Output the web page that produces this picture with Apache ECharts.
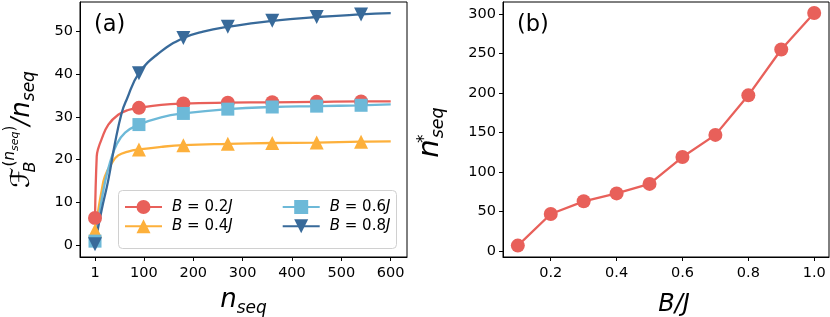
<!DOCTYPE html>
<html><head><meta charset="utf-8">
<script src="https://cdn.jsdelivr.net/npm/echarts@6/dist/echarts.min.js"></script>
<style>html,body{margin:0;padding:0;background:#fff}#c{width:830px;height:317px}</style>
</head><body><div id="c"></div>
<script>
// ---------- data ----------
const markerX = [1, 90, 180, 270, 360, 450, 540];
const xTicksA = [1, 100, 200, 300, 400, 500, 600];
const yTicksA = [0, 10, 20, 30, 40, 50];

const redX = [1, 4.5, 7, 14, 28, 48, 68, 90, 135, 180, 270, 360, 450, 540, 600];
const redY = [6.4, 20.8, 22.4, 24.7, 28.2, 30.5, 31.6, 32.1, 32.8, 33.1, 33.3, 33.4, 33.5, 33.6, 33.6];

const orangeX = [1, 8, 14, 21, 35, 48, 68, 90, 135, 180, 270, 360, 450, 540, 600];
const orangeY = [3.5, 8.5, 12.5, 16.1, 19.2, 21.0, 21.9, 22.4, 23.0, 23.4, 23.7, 23.9, 24.0, 24.2, 24.3];

const lblueX = [1, 11, 21, 31, 45, 62, 90, 135, 180, 270, 360, 450, 540, 600];
const lblueY = [1.0, 8.3, 14.6, 19.2, 23.6, 26.3, 28.2, 29.9, 30.8, 31.8, 32.3, 32.5, 32.7, 32.9];

const dblueX = [1, 14.5, 28, 41.5, 55, 65, 90, 133, 180, 220, 270, 360, 450, 540, 600];
const dblueY = [0.3, 8.3, 15.3, 23.9, 30.9, 34.0, 40.2, 45.1, 48.4, 49.9, 51.0, 52.4, 53.3, 53.9, 54.2];

const seriesNames = ['B = 0.2J', 'B = 0.4J', 'B = 0.6J', 'B = 0.8J'];

const bX = [0.1, 0.2, 0.3, 0.4, 0.5, 0.6, 0.7, 0.8, 0.9, 1.0];
const bY = [7, 47, 63, 73, 85, 119, 147, 197, 255, 301];
const xTicksB = [0.2, 0.4, 0.6, 0.8, 1.0];
const yTicksB = [0, 50, 100, 150, 200, 250, 300];

// ---------- styling ----------
const FONT = 'DejaVu Sans';
const C_RED = '#e8605a', C_ORANGE = '#fdb03b', C_LBLUE = '#6db9d8', C_DBLUE = '#386a9a';
const LW = 2.3;

function pts(xs, ys) {
  return xs.map((x, i) => markerX.includes(x) ? [x, ys[i]] : { value: [x, ys[i]], symbol: 'none' });
}
function lineSeries(name, xs, ys, color, symbol, size) {
  return {
    name, type: 'line', xAxisIndex: 0, yAxisIndex: 0,
    data: pts(xs, ys), smooth: 0.45,
    showSymbol: true, showAllSymbol: true,
    symbol, symbolSize: size,
    lineStyle: { color, width: LW }, itemStyle: { color, borderWidth: 0 },
    emphasis: { disabled: true }, silent: true, animation: false, clip: false
  };
}
const axisCommon = {
  nameMoveOverlap: false,
  axisLine: { show: true, onZero: false, lineStyle: { color: '#000', width: 1 } },
  axisTick: { show: true, inside: false, length: 4, lineStyle: { color: '#000', width: 1 } },
  splitLine: { show: false },
  axisLabel: { color: '#000', fontFamily: FONT, fontSize: 14.5 }
};
const legText = { fontFamily: FONT, fontSize: 15, color: '#000', padding: [0, 0, 0, 5],
  rich: { i: { fontFamily: FONT, fontSize: 15, fontStyle: 'italic', color: '#000' },
          r: { fontFamily: FONT, fontSize: 15, color: '#000' } } };
function legFmt(name) {
  const m = name.match(/B = ([\d.]+)J/);
  return '{i|B}{r| = ' + m[1] + '}{i|J}';
}

const option = {
  backgroundColor: '#fff',
  animation: false,
  title: [
    { text: '(a)', left: 89, top: 9, textStyle: { fontFamily: FONT, fontSize: 22.5, fontWeight: 'normal', color: '#000' } },
    { text: '(b)', left: 512, top: 9, textStyle: { fontFamily: FONT, fontSize: 22.5, fontWeight: 'normal', color: '#000' } }
  ],
  grid: [
    { left: 80, right: 423, top: 2, bottom: 60, containLabel: false, outerBoundsMode: 'none',
      show: true, borderColor: '#000', borderWidth: 1, backgroundColor: 'transparent' },
    { left: 503, right: 1, top: 2, bottom: 60, containLabel: false, outerBoundsMode: 'none',
      show: true, borderColor: '#000', borderWidth: 1, backgroundColor: 'transparent' }
  ],
  xAxis: [
    Object.assign({}, axisCommon, {
      type: 'value', gridIndex: 0, min: -29.4, max: 633,
      axisTick: Object.assign({}, axisCommon.axisTick, { customValues: xTicksA }),
      axisLabel: Object.assign({}, axisCommon.axisLabel, { customValues: xTicksA, margin: 9 }),
      name: '{n|n}{s|seq}', nameLocation: 'middle', nameGap: 30,
      nameTextStyle: { rich: {
        n: { fontFamily: FONT, fontSize: 26, fontStyle: 'italic', color: '#000', lineHeight: 30, verticalAlign: 'top' },
        s: { fontFamily: FONT, fontSize: 17, fontStyle: 'italic', color: '#000', lineHeight: 17, verticalAlign: 'bottom' } } }
    }),
    Object.assign({}, axisCommon, {
      type: 'value', gridIndex: 1, min: 0.055, max: 1.045,
      axisTick: Object.assign({}, axisCommon.axisTick, { customValues: xTicksB }),
      axisLabel: Object.assign({}, axisCommon.axisLabel, { customValues: xTicksB, margin: 9, formatter: v => v.toFixed(1) }),
      name: 'B/J', nameLocation: 'middle', nameGap: 36,
      nameTextStyle: { fontFamily: FONT, fontSize: 24, fontStyle: 'italic', color: '#000', lineHeight: 24, padding: [0, 0, 0, 16] }
    })
  ],
  yAxis: [
    Object.assign({}, axisCommon, {
      type: 'value', gridIndex: 0, min: -2.7, max: 56.8,
      axisTick: Object.assign({}, axisCommon.axisTick, { customValues: yTicksA }),
      axisLabel: Object.assign({}, axisCommon.axisLabel, { customValues: yTicksA, margin: 7 }),
      name: '{F|ℱ}{B|B}{sp|(}{spi|n}{sps|seq}{sp|)}{sl|/}{n|n}{s|seq}',
      nameLocation: 'middle', nameRotate: 90, nameGap: 38,
      nameTextStyle: { rich: {
        F: { fontFamily: FONT, fontSize: 26, color: '#000', lineHeight: 40, verticalAlign: 'middle' },
        B: { fontFamily: FONT, fontSize: 16, fontStyle: 'italic', color: '#000', lineHeight: 16, width: 1, verticalAlign: 'bottom', padding: [0, 0, 3, 0] },
        sp: { fontFamily: FONT, fontSize: 15, color: '#000', lineHeight: 16, verticalAlign: 'top', padding: [1, 0, 0, 0] },
        spi: { fontFamily: FONT, fontSize: 15, fontStyle: 'italic', color: '#000', lineHeight: 16, verticalAlign: 'top', padding: [1, 0, 0, 0] },
        sps: { fontFamily: FONT, fontSize: 11, fontStyle: 'italic', color: '#000', lineHeight: 12, verticalAlign: 'top', padding: [8, 0, 0, 0] },
        sl: { fontFamily: FONT, fontSize: 24, fontStyle: 'italic', color: '#000', lineHeight: 28, verticalAlign: 'middle' },
        n: { fontFamily: FONT, fontSize: 26, fontStyle: 'italic', color: '#000', lineHeight: 28, verticalAlign: 'middle' },
        s: { fontFamily: FONT, fontSize: 17, fontStyle: 'italic', color: '#000', lineHeight: 17, verticalAlign: 'bottom', padding: [0, 0, 4, 0] }
      } }
    }),
    Object.assign({}, axisCommon, {
      type: 'value', gridIndex: 1, min: -7.4, max: 315,
      axisTick: Object.assign({}, axisCommon.axisTick, { customValues: yTicksB }),
      axisLabel: Object.assign({}, axisCommon.axisLabel, { customValues: yTicksB, margin: 7 }),
      name: '{n|n}{st|*}{s|seq}', nameLocation: 'middle', nameRotate: 90, nameGap: 54,
      nameTextStyle: { padding: [0, 6, 0, 0], rich: {
        n: { fontFamily: FONT, fontSize: 29, fontStyle: 'italic', color: '#000', lineHeight: 38, verticalAlign: 'middle' },
        st: { fontFamily: FONT, fontSize: 17, fontStyle: 'italic', color: '#000', lineHeight: 17, width: 1, verticalAlign: 'top', padding: [5, 0, 0, 0] },
        s: { fontFamily: FONT, fontSize: 17.5, fontStyle: 'italic', color: '#000', lineHeight: 18, verticalAlign: 'bottom', padding: [0, 0, 2, 0] }
      } }
    })
  ],
  graphic: [{
    type: 'rect', z: 3, silent: true,
    shape: { x: 118.5, y: 190.5, width: 278, height: 58, r: 4 },
    style: { fill: 'rgba(255,255,255,0.85)', stroke: '#d0d0d0', lineWidth: 1 }
  }],
  legend: [
    { data: [seriesNames[0], seriesNames[1]], orient: 'vertical', left: 124, top: 199.5, padding: 0,
      itemWidth: 37, itemHeight: 17.5, itemGap: 4.2, z: 5, textStyle: legText, formatter: legFmt, selectedMode: false },
    { data: [seriesNames[2], seriesNames[3]], orient: 'vertical', left: 281.7, top: 199.5, padding: 0,
      itemWidth: 37, itemHeight: 17.5, itemGap: 4.2, z: 5, textStyle: legText, formatter: legFmt, selectedMode: false }
  ],
  series: [
    lineSeries(seriesNames[0], redX, redY, C_RED, 'circle', 14),
    lineSeries(seriesNames[1], orangeX, orangeY, C_ORANGE, 'triangle', 14),
    lineSeries(seriesNames[2], lblueX, lblueY, C_LBLUE, 'rect', 13),
    lineSeries(seriesNames[3], dblueX, dblueY, C_DBLUE, 'path://M0,0L10,0L5,10Z', 14),
    {
      name: 'nstar', type: 'line', xAxisIndex: 1, yAxisIndex: 1,
      data: bX.map((x, i) => [x, bY[i]]),
      symbol: 'circle', symbolSize: 14, showAllSymbol: true,
      lineStyle: { color: C_RED, width: LW }, itemStyle: { color: C_RED },
      emphasis: { disabled: true }, silent: true, animation: false, clip: false
    }
  ]
};
const chart = echarts.init(document.getElementById('c'), null, { renderer: 'canvas' });
chart.setOption(option);
</script>
</body></html>
